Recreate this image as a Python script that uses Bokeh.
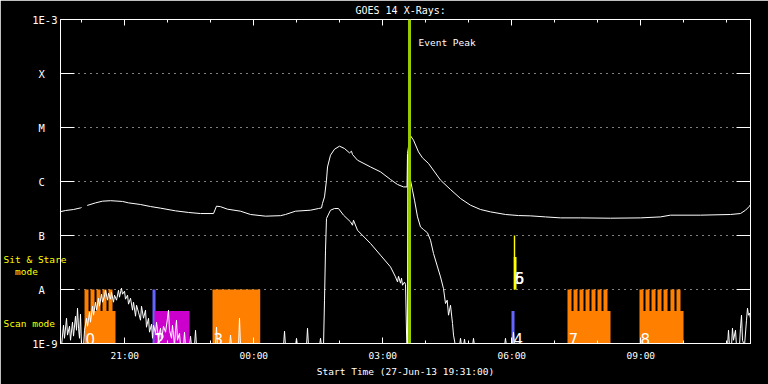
from bokeh.plotting import figure
from bokeh.models import (Range1d, FixedTicker, CustomJSTickFormatter, LinearAxis,
                          LogAxis, Label, Span)
from bokeh.core.properties import value
from bokeh.embed import file_html
from bokeh.resources import INLINE

NAN = float("nan")

# ---- axes: hours after 27-Jun-13 19:31:00 ; flux W/m^2 ----
xtick_pos = [1.4833, 4.4833, 7.4833, 10.4833, 13.4833]
xtick_labels = ["21:00", "00:00", "03:00", "06:00", "09:00"]
xminor_pos = [0.4833, 1.4833, 2.4833, 3.4833, 4.4833, 5.4833, 6.4833, 7.4833,
              8.4833, 9.4833, 10.4833, 11.4833, 12.4833, 13.4833, 14.4833, 15.4833]
ytick_vals = [1e-9, 1e-8, 1e-7, 1e-6, 1e-5, 1e-4, 1e-3]
ytick_labels = ["1E-9", "A", "B", "C", "M", "X", "1E-3"]
mode_pos = [3.64e-8, 2.18e-8, 2.38e-9]
mode_labels = ["Sit & Stare", "mode", "Scan mode"]
mode_pad = [0, 5, 2]

# ---- GOES 14 long channel (1-8 A) ----
long_t = [0.000, 0.105, 0.291, 0.453, 0.477, NAN, 0.609, 0.802, 0.965, 1.151, 1.430,
          1.570, 1.849, 2.081, 2.314, 2.663, 2.965, 3.244, 3.547, 3.616, 3.709, 3.872,
          4.174, 4.407, 4.756, 5.105, 5.221, 5.453, 5.802, 5.988, 6.058, 6.081, 6.128,
          6.174, 6.198, 6.267, 6.360, 6.477, 6.593, 6.709, 6.756, 6.779, 6.895, 7.198,
          7.430, 7.663, 7.826, 7.965, 8.047, 8.058, 8.120, 8.198, 8.314, 8.407, 8.547,
          8.826, 9.058, 9.291, 9.523, 9.756, 9.988, 10.337, 10.640, 10.919, 11.267,
          11.616, 12.081, 12.779, 13.477, 13.942, 14.174, 14.872, 15.570, 15.802,
          15.919, 16.012, 16.040]
long_f = [2.78e-7, 2.90e-7, 3.03e-7, 3.24e-7, 3.30e-7, NAN, 3.60e-7, 4.02e-7, 4.32e-7,
          4.41e-7, 4.27e-7, 4.02e-7, 3.75e-7, 3.44e-7, 3.21e-7, 2.86e-7, 2.67e-7,
          2.55e-7, 2.55e-7, 3.49e-7, 3.42e-7, 3.07e-7, 2.82e-7, 2.45e-7, 2.28e-7,
          2.33e-7, 2.45e-7, 2.82e-7, 2.94e-7, 3.16e-7, 3.24e-7, 3.92e-7, 5.19e-7,
          1.06e-6, 1.86e-6, 3.07e-6, 3.96e-6, 4.51e-6, 4.08e-6, 3.39e-6, 3.64e-6,
          3.16e-6, 2.48e-6, 1.86e-6, 1.51e-6, 1.09e-6, 8.80e-7, 7.94e-7, 7.94e-7,
          3.30e-6, 7.20e-6, 5.82e-6, 3.53e-6, 2.74e-6, 2.16e-6, 1.06e-6, 7.11e-7,
          4.84e-7, 3.64e-7, 3.03e-7, 2.74e-7, 2.45e-7, 2.34e-7, 2.31e-7, 2.21e-7,
          2.12e-7, 2.12e-7, 2.09e-7, 2.12e-7, 2.21e-7, 2.38e-7, 2.38e-7, 2.45e-7,
          2.55e-7, 2.94e-7, 3.49e-7, 3.80e-7]

# ---- GOES 14 short channel (0.5-4 A) ----
short_t = [0.012, 0.058, 0.081, 0.128, 0.151, 0.198, 0.221, 0.267, 0.291, 0.337, 0.360,
           0.384, 0.407, 0.430, 0.453, 0.477, 0.523, 0.547, 0.593, 0.616, 0.663, 0.686,
           0.733, 0.756, 0.802, 0.826, 0.872, 0.895, 0.942, 0.965, 1.012, 1.035, 1.081,
           1.105, 1.151, 1.174, 1.221, 1.244, 1.291, 1.337, 1.360, 1.407, 1.430, 1.477,
           1.500, 1.547, 1.570, 1.616, 1.663, 1.686, 1.733, 1.756, 1.802, 1.849, 1.872,
           1.919, 1.965, 1.988, 2.035, 2.058, 2.105, 2.128, 2.151, 2.198, 2.221, 2.267,
           2.314, 2.337, 2.384, 2.430, 2.477, 2.500, 2.523, 2.570, 2.593, 2.640, 2.663,
           2.686, 2.709, 2.756, 2.779, 2.849, 2.872, 2.895, 2.988, 3.012, 3.035, 3.105,
           3.128, 3.151, 3.593, 3.616, 3.640, 3.919, 3.942, 3.965, 4.128, 4.151, 4.174,
           5.174, 5.198, 5.221, 5.453, 5.477, 5.500, 5.709, 5.733, 5.756, 6.012, 6.035,
           6.058, 6.105, 6.128, 6.151, 6.174, 6.267, 6.360, 6.453, 6.570, 6.733, 6.779,
           6.802, 6.895, 7.198, 7.430, 7.663, 7.779, 7.826, 7.849, 7.895, 7.919, 7.942,
           7.988, 8.012, 8.042, 8.058, 8.065, 8.105, 8.128, 8.174, 8.221, 8.291, 8.360,
           8.430, 8.523, 8.593, 8.663, 8.756, 8.826, 8.895, 8.942, 8.981, 9.012, 9.058,
           9.105, 9.128, 9.174, 9.267, 9.291, 9.314, 9.360, 9.384, 9.407, 9.570, 9.593,
           9.616, 10.314, 10.337, 10.360, 10.500, 10.523, 10.547, 15.500, 15.523,
           15.547, 15.593, 15.616, 15.640, 15.686, 15.709, 15.779, 15.802, 15.826,
           15.849, 15.895, 15.942, 15.965, 15.988, 16.012, 16.042]
short_f = [9e-10, 2.18e-9, 1.25e-9, 2.94e-9, 1.43e-9, 2.09e-9, 1.15e-9, 2.48e-9, 1.37e-9,
           3.20e-9, 1.76e-9, 4.51e-9, 1.92e-9, 1.25e-9, 3.49e-9, 9e-10, 9e-10, 1.76e-9,
           2.94e-9, 2.09e-9, 3.80e-9, 2.48e-9, 4.91e-9, 3.34e-9, 5.82e-9, 4.14e-9,
           6.90e-9, 4.91e-9, 8.18e-9, 5.82e-9, 7.52e-9, 9.71e-9, 6.34e-9, 8.54e-9,
           6.62e-9, 8.91e-9, 5.82e-9, 7.85e-9, 6.34e-9, 9.71e-9, 7.20e-9, 1.06e-8,
           8.18e-9, 9.30e-9, 6.62e-9, 7.85e-9, 5.35e-9, 6.90e-9, 4.14e-9, 5.82e-9,
           3.20e-9, 5.12e-9, 3.80e-9, 2.70e-9, 4.91e-9, 2.94e-9, 4.14e-9, 2.00e-9,
           2.94e-9, 1.62e-9, 2.28e-9, 1.25e-9, 2.18e-9, 1.55e-9, 2.48e-9, 1.25e-9,
           1.92e-9, 1.15e-9, 2.09e-9, 1.62e-9, 2.94e-9, 4.14e-9, 1.76e-9, 1.25e-9,
           2.18e-9, 9e-10, 1.76e-9, 2.70e-9, 1.15e-9, 1.55e-9, 9e-10, 9e-10, 1.62e-9,
           9e-10, 9e-10, 1.37e-9, 9e-10, 9e-10, 1.76e-9, 9e-10, 9e-10, 2.00e-9, 9e-10,
           9e-10, 1.43e-9, 9e-10, 9e-10, 2.94e-9, 9e-10, 9e-10, 1.69e-9, 9e-10, 9e-10,
           1.25e-9, 9e-10, 9e-10, 1.92e-9, 9e-10, 9e-10, 1.25e-9, 9e-10, 9e-10, 6.34e-9,
           5.35e-8, 2.07e-7, 2.94e-7, 3.16e-7, 3.16e-7, 2.38e-7, 1.79e-7, 1.55e-7,
           1.92e-7, 1.25e-7, 7.11e-8, 4.32e-8, 2.62e-8, 1.71e-8, 1.38e-8, 1.76e-8,
           1.31e-8, 1.62e-8, 1.20e-8, 1.37e-8, 1.25e-8, 9e-10, 9e-10, 3.07e-6, 2.00e-6,
           1.06e-6, 6.90e-7, 4.51e-7, 2.21e-7, 1.44e-7, 1.29e-7, 1.12e-7, 8.18e-8,
           4.64e-8, 2.62e-8, 1.71e-8, 1.04e-8, 5.50e-9, 6.34e-9, 3.34e-9, 5.12e-9,
           2.35e-9, 1.43e-9, 9e-10, 9e-10, 1.25e-9, 9e-10, 9e-10, 1.20e-9, 9e-10, 9e-10,
           1.25e-9, 9e-10, 9e-10, 1.25e-9, 9e-10, 9e-10, 1.62e-9, 9e-10, 9e-10, 1.76e-9,
           9e-10, 9e-10, 1.92e-9, 1.15e-9, 1.76e-9, 9e-10, 9e-10, 1.92e-9, 3.34e-9,
           1.15e-9, 9e-10, 2.70e-9, 4.51e-9, 3.34e-9, 3.64e-9, 2.70e-9]

# ---- observation blocks (scan mode / sit & stare) ----
blk_left = [0.547, 2.128, 2.174, 3.523, 10.477, 10.530, 10.530, 11.779, 13.453]
blk_right = [1.267, 2.198, 2.988, 4.633, 10.547, 10.563, 10.593, 12.779, 14.477]
blk_bottom = [1e-9, 1e-9, 1e-9, 1e-9, 1e-9, 1e-8, 1e-8, 1e-9, 1e-9]
blk_top = [4e-9, 1e-8, 4e-9, 1e-8, 4e-9, 1e-7, 4e-8, 4e-9, 4e-9]
blk_color = ["#ff8000", "#6464ff", "#cc00cc", "#ff8000", "#6464ff", "#ffff00",
             "#ffff00", "#ff8000", "#ff8000"]

tooth_left = [0.547, 0.686, 0.826, 0.965, 1.105,
              11.779, 11.919, 12.058, 12.198, 12.337, 12.477, 12.616,
              13.453, 13.593, 13.733, 13.872, 14.012, 14.174, 14.314]
tooth_right = [0.640, 0.779, 0.919, 1.058, 1.198,
               11.872, 12.012, 12.151, 12.291, 12.430, 12.570, 12.709,
               13.546, 13.686, 13.826, 13.965, 14.105, 14.267, 14.407]
tooth_bottom = [4e-9] * 19
tooth_top = [1e-8] * 19

digit_text = ["0", "1", "2", "3", "4", "5", "6", "7", "8"]
digit_x = [0.570, 2.151, 2.197, 3.546, 10.523, 10.553, 10.553, 11.802, 13.476]
digit_y = [1.19e-9, 1.19e-9, 1.19e-9, 1.19e-9, 1.19e-9, 1.62e-8, 1.62e-8, 1.19e-9, 1.19e-9]

peak_t = 8.105

MONO = "DejaVu Sans Mono"

p = figure(width=768, height=384, output_backend="svg", toolbar_location=None,
           y_axis_type="log", x_range=Range1d(-0.012, 16.035), y_range=Range1d(1e-9, 1e-3),
           min_border_left=60, min_border_right=18, min_border_top=19, min_border_bottom=41,
           background_fill_color="black", border_fill_color="black",
           outline_line_color="white")

p.title.text = "GOES 14 X-Rays:"
p.title.align = "left"
p.title.vertical_align = "top"
p.title.offset = 295
p.title.text_color = "white"
p.title.text_font = MONO
p.title.text_font_size = "10px"
p.title.text_font_style = "normal"
p.title.standoff = 4

xticker = FixedTicker(ticks=xtick_pos, minor_ticks=xminor_pos)
xfmt = CustomJSTickFormatter(args=dict(pos=xtick_pos, lab=xtick_labels), code="""
let b = 0, bd = 1e9;
for (let i = 0; i < pos.length; i++) { const d = Math.abs(pos[i] - tick); if (d < bd) { bd = d; b = i; } }
return lab[b];
""")
yticker = FixedTicker(ticks=ytick_vals)
yfmt = CustomJSTickFormatter(args=dict(pos=ytick_vals, lab=ytick_labels), code="""
let b = 0, bd = 1e9;
for (let i = 0; i < pos.length; i++) { const d = Math.abs(Math.log10(pos[i]) - Math.log10(tick)); if (d < bd) { bd = d; b = i; } }
const s = lab[b];
return s.length == 1 ? s + '\\u00a0\\u00a0' : s;
""")
modefmt = CustomJSTickFormatter(args=dict(pos=mode_pos, lab=mode_labels, pad=mode_pad), code="""
let b = 0, bd = 1e9;
for (let i = 0; i < pos.length; i++) { const d = Math.abs(Math.log10(pos[i]) - Math.log10(tick)); if (d < bd) { bd = d; b = i; } }
return lab[b] + '\\u00a0'.repeat(pad[b]);
""")
empty = CustomJSTickFormatter(code="return '';")

ax = p.xaxis[0]
ax.ticker = xticker
ax.formatter = xfmt
ax.major_tick_in = 6
ax.major_tick_out = 0
ax.minor_tick_in = 3
ax.minor_tick_out = 0
ax.axis_line_color = "white"
ax.major_tick_line_color = "white"
ax.minor_tick_line_color = "white"
ax.major_label_text_color = "white"
ax.major_label_text_font = MONO
ax.major_label_text_font_size = "9.5px"
ax.major_label_standoff = 6
ax.axis_label = "Start Time (27-Jun-13 19:31:00)"
ax.axis_label_text_color = "white"
ax.axis_label_text_font = MONO
ax.axis_label_text_font_size = "9.5px"
ax.axis_label_text_font_style = "normal"
ax.axis_label_standoff = 2

ay = p.yaxis[0]
ay.ticker = yticker
ay.formatter = yfmt
ay.major_tick_in = 14
ay.major_tick_out = 0
ay.minor_tick_line_color = None
ay.axis_line_color = "white"
ay.major_tick_line_color = "white"
ay.major_label_text_color = "white"
ay.major_label_text_font = MONO
ay.major_label_text_font_size = "10.5px"
ay.major_label_standoff = 3

# yellow mode captions, carried by an extra left axis
mode_axis = LogAxis(ticker=FixedTicker(ticks=mode_pos), formatter=modefmt,
                    major_tick_in=0, major_tick_out=0, major_tick_line_color=None,
                    minor_tick_line_color=None, axis_line_color=None,
                    major_label_text_color="#ffff00", major_label_text_font=MONO,
                    major_label_text_font_size="9.5px", major_label_standoff=-37)
p.add_layout(mode_axis, "left")

top = LinearAxis(ticker=xticker, formatter=empty, major_tick_in=6, major_tick_out=0,
                 minor_tick_in=3, minor_tick_out=0, axis_line_color="white",
                 major_tick_line_color="white", minor_tick_line_color="white",
                 major_label_standoff=0, major_label_text_font_size="0px")
p.add_layout(top, "above")
right = LogAxis(ticker=FixedTicker(ticks=ytick_vals), formatter=empty, major_tick_in=14,
                major_tick_out=0, minor_tick_line_color=None, axis_line_color="white",
                major_tick_line_color="white", major_label_standoff=0,
                major_label_text_font_size="0px")
p.add_layout(right, "right")

p.xgrid.visible = False
p.ygrid.ticker = yticker
p.ygrid.grid_line_color = "white"
p.ygrid.grid_line_dash = "1 5"
p.ygrid.grid_line_width = 1

p.quad(left=blk_left, right=blk_right, bottom=blk_bottom, top=blk_top,
       fill_color=blk_color, line_color=None)
p.quad(left=tooth_left, right=tooth_right, bottom=tooth_bottom, top=tooth_top,
       fill_color="#ff8000", line_color=None)

p.line(short_t, short_f, line_color="white", line_width=1)
p.line(long_t, long_f, line_color="white", line_width=1)

p.text(x=digit_x, y=digit_y, text=digit_text, text_color="white",
       text_font=value("DejaVu Sans"), text_font_size="15px", text_baseline="alphabetic")

p.add_layout(Span(location=peak_t, dimension="height", line_color="#9acd00", line_width=3))

p.add_layout(Label(x=peak_t, y=3.8e-4, x_offset=9, text="Event Peak", text_color="white",
                   text_font=MONO, text_font_size="9.5px", text_baseline="middle"))

open("out.html", "w").write(file_html(p, INLINE))
